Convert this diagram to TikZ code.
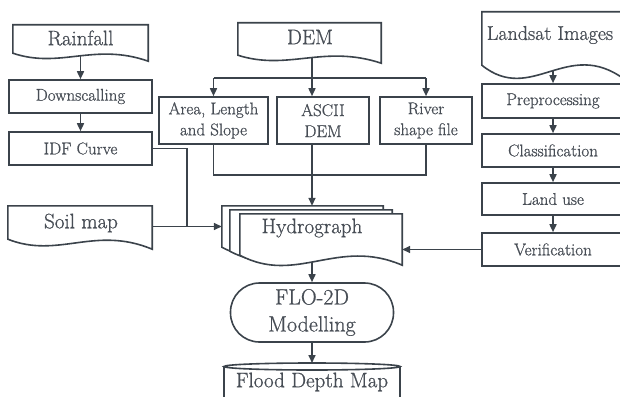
\documentclass[tikz,border=0pt]{standalone}
\usepackage{fontspec}
\setmainfont{Latin Modern Roman}[FakeBold=0.8]
\usetikzlibrary{arrows.meta,calc,backgrounds}
\definecolor{lc}{HTML}{3B434B}
\definecolor{tc}{HTML}{474D55}
\newcommand\smallf{\fontsize{17}{21}\selectfont}
\newcommand\bigf{\fontsize{21}{26}\selectfont}
\tikzset{
 ln/.style={draw=lc, line width=1.6pt},
 conn/.style={draw=lc, line width=1.6pt},
 arr/.style={conn, -{Triangle[length=8pt,width=7pt]}},
 proc/.style={rectangle, draw=lc, line width=1.6pt, fill=white, inner sep=0pt, text=tc, font=\smallf, align=center},
 anchorbox/.style={rectangle, draw=none, inner sep=0pt},
 big/.style={text=tc, font=\bigf, align=center, inner sep=0pt},
}
\newcommand\docshape[4]{\draw[ln, fill=white] (#1.north west) -- (#1.north east) -- ($(#1.south east)+(0,#4)$) .. controls ($(#1.south west)!0.6!(#1.south east)+(0,#3)$) and ($(#1.south west)!0.35!(#1.south east)+(0,#2)$) .. (#1.south west) -- cycle;}
\begin{document}
\begin{tikzpicture}[x=1pt,y=-1pt]
\useasboundingbox (0,0) rectangle (620,396);
\clip (0,0) rectangle (620,396);
% left column
\node[anchorbox, minimum width=135pt, minimum height=28pt] (rain) at (80.5,39) {};
\docshape{rain}{16}{-11}{8}
\node[big] (raintxt) at (80.5,38) {Rainfall};
\node[proc, minimum width=143pt, minimum height=33pt] (down) at (80.5,96.5) {Downscalling};
\node[proc, minimum width=143pt, minimum height=33pt] (idf) at (80.5,148.5) {IDF Curve};
\node[anchorbox, minimum width=144pt, minimum height=33pt] (soil) at (80,222.5) {};
\docshape{soil}{20}{-14}{10}
\node[big] (soiltxt) at (81,223) {Soil map};
% middle
\node[anchorbox, minimum width=143pt, minimum height=32pt] (dem) at (309.5,39) {};
\docshape{dem}{16}{-11}{8}
\node[big] (demtxt) at (310,37) {DEM};
\node[proc, minimum width=109pt, minimum height=47pt] (area) at (213.5,120.5) {Area, Length\\and Slope};
\node[proc, minimum width=92pt, minimum height=47pt] (ascii) at (323,120.5) {ASCII\\DEM};
\node[proc, minimum width=92pt, minimum height=47pt] (river) at (426,120.5) {River\\shape file};
% hydrograph stack
\node[anchorbox, minimum width=161pt, minimum height=41pt] (h1) at (302.5,226.5) {};
\docshape{h1}{30}{-18}{10}
\node[anchorbox, minimum width=162pt, minimum height=41pt] (h2) at (311,230.5) {};
\docshape{h2}{30}{-18}{10}
\node[anchorbox, minimum width=162pt, minimum height=41pt] (h3) at (321,234.5) {};
\docshape{h3}{30}{-18}{10}
\node[big] (hydtxt) at (312,228) {Hydrograph};
% FLO-2D
\node[proc, rounded corners=29pt, minimum width=163pt, minimum height=59pt, font=\fontsize{22}{27}\selectfont] (flo) at (312,312.5) {FLO-2D\\Modelling};
% Flood depth map
\node[anchorbox, minimum width=176pt, minimum height=40pt, anchor=north] (flood) at (312,363) {};
\draw[ln, fill=white] ($(flood.north west)+(0,3.5)$) -- ($(flood.south west)+(0,20)$) -- ($(flood.south east)+(0,20)$) -- ($(flood.north east)+(0,3.5)$);
\draw[ln, fill=white] ($(flood.north)+(0,3.5)$) ellipse [x radius=88pt, y radius=3.5pt];
\node[big, font=\fontsize{21}{24}\selectfont] (floodtxt) at (312,382) {Flood Depth Map};
% right column
\node[anchorbox, minimum width=142pt, minimum height=53pt] (land) at (553,38.5) {};
\docshape{land}{40}{-28}{14}
\node[big, font=\fontsize{20}{24}\selectfont] (landtxt) at (550,35) {Landsat Images};
\node[proc, minimum width=142pt, minimum height=34pt] (pre) at (553,101) {Preprocessing};
\node[proc, minimum width=142pt, minimum height=33pt] (cls) at (553,150.5) {Classification};
\node[proc, minimum width=142pt, minimum height=32pt] (lu) at (553,199) {Land use};
\node[proc, minimum width=142pt, minimum height=33pt] (verif) at (553,249.5) {Verification};
% connectors
\coordinate (j1) at (187,226.5);
\coordinate (b1) at (312,78);
\coordinate (b2) at (312,175);
\begin{scope}[on background layer]
\draw[arr] (rain.south) -- (down.north);
\draw[arr] (down) -- (idf);
\draw[conn] (idf.east) -| (j1);
\draw[arr] (soil.east |- j1) -- (j1 -| h1.west);
\draw[conn] (b1 |- dem.south) -- (b1);
\draw[conn] (area.north |- b1) -- (river.north |- b1);
\draw[arr] (area.north |- b1) -- (area.north);
\draw[arr] (b1) -- (b1 |- ascii.north);
\draw[arr] (river.north |- b1) -- (river.north);
\draw[conn] (area.south) -- (area.south |- b2) -- (river.south |- b2) -- (river.south);
\draw[conn] (b1 |- ascii.south) -- (b2);
\draw[arr] (b2) -- (b2 |- h1.north);
\draw[arr] (verif.west) -- (verif.west -| h3.east);
\draw[arr] (b2 |- h3.south) -- (flo.north);
\draw[arr] (flo.south) -- (flood.north);
\draw[arr] (land.south) -- (pre.north);
\draw[arr] (pre) -- (cls);
\draw[arr] (cls) -- (lu);
\draw[arr] (lu) -- (verif);
\end{scope}
\end{tikzpicture}
\end{document}
